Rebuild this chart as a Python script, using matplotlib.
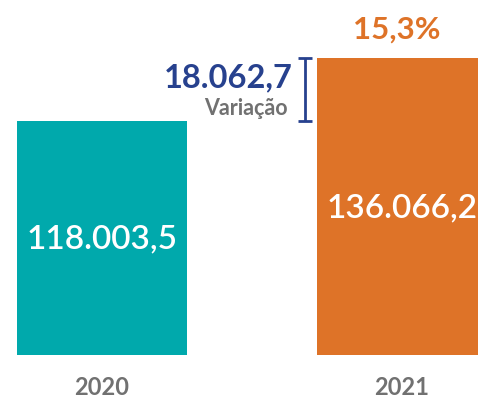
import matplotlib.pyplot as plt

# Dados
anos = ['2020', '2021']
valores = [118003.5, 136066.2]
rotulos = ['118.003,5', '136.066,2']
variacao = '18.062,7'
variacao_pct = '15,3%'

cores = ['#00A9AC', '#DE7328']
azul = '#27418E'
cinza = '#717171'

plt.rcParams['font.family'] = ['Lato', 'DejaVu Sans']

fig = plt.figure(figsize=(4.78, 3.99), dpi=100)
ax = fig.add_axes([0, 44 / 399, 1, 355 / 399])

pos = [0, 1]
ax.bar(pos, valores, width=0.567, color=cores, zorder=2)

# Escala do eixo y não começa em zero
base = 50900
ax.set_ylim(base, base + 355 * 286.7)
ax.set_xlim(-0.34, 1.2533)

# Valores dentro das barras
ax.text(pos[0], 118003.5 - 34000, rotulos[0], ha='center', va='center',
        color='white', fontsize=24, fontweight='semibold')
ax.text(pos[1], 136066.2 - 43000, rotulos[1], ha='center', va='center',
        color='white', fontsize=24, fontweight='semibold')

# Percentual acima da barra de 2021
ax.text(pos[1] - 0.017, valores[1] + 8200, variacao_pct, ha='center', va='center',
        color=cores[1], fontsize=22.5, fontweight='bold')

# Colchete da variação
xb = 0.677
meio = (valores[0] + valores[1]) / 2
ax.errorbar(xb, meio, yerr=(valores[1] - valores[0]) / 2, fmt='none',
            ecolor=azul, elinewidth=2, capsize=5, capthick=2)
ax.text(0.637, valores[1] - 5800, variacao, ha='right', va='center',
        color=azul, fontsize=23.5, fontweight='bold')
ax.text(0.62, valores[0] + 3600, 'Variação', ha='right', va='center',
        color=cinza, fontsize=15.5, fontweight='bold')

ax.set_xticks(pos)
ax.set_xticklabels(anos, color=cinza, fontsize=17, fontweight='bold')
ax.tick_params(axis='x', length=0, pad=15)
ax.set_yticks([])
for s in ax.spines.values():
    s.set_visible(False)

fig.savefig('out.png', dpi=100, facecolor='white')
